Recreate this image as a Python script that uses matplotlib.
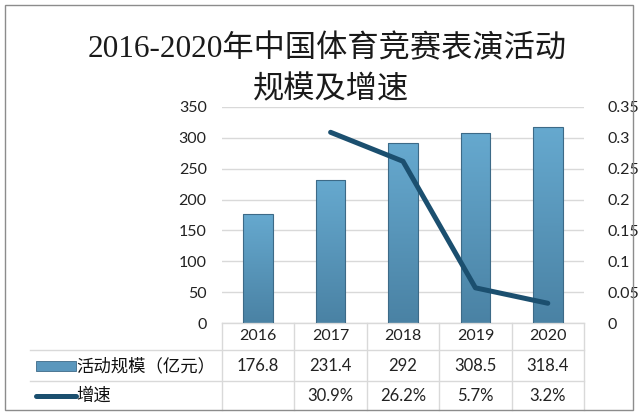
"""2016-2020 sports competition performance scale and growth, bar + line with data table."""
import numpy as np
import matplotlib
matplotlib.use('Agg')
import matplotlib.pyplot as plt
from matplotlib.patches import Rectangle
from matplotlib.lines import Line2D
from matplotlib.colors import LinearSegmentedColormap

years = ['2016', '2017', '2018', '2019', '2020']
scale = [176.8, 231.4, 292, 308.5, 318.4]
growth = [None, 0.309, 0.262, 0.057, 0.032]
growth_labels = ['', '30.9%', '26.2%', '5.7%', '3.2%']
left_ticks = [0, 50, 100, 150, 200, 250, 300, 350]
right_ticks = [0, 0.05, 0.1, 0.15, 0.2, 0.25, 0.3, 0.35]
right_tick_labels = ['0', '0.05', '0.1', '0.15', '0.2', '0.25', '0.3', '0.35']
series_names = ['活动规模（亿元）', '增速']
title_lines = ['2016-2020年中国体育竞赛表演活动', '规模及增速']

CJK = ['Noto Sans CJK SC', 'DejaVu Sans']
NUM = ['Lato', 'Noto Sans CJK SC', 'DejaVu Sans']
TITLE = ['Liberation Serif', 'Noto Sans CJK SC']
BAR_TOP = '#66a9cf'
BAR_BOT = '#4a82a4'
LINE_C = '#1b4f6f'
GRID_C = '#d9d9d9'

W, H = 640, 415
fig = plt.figure(figsize=(W / 100, H / 100), dpi=100)
fig.patch.set_facecolor('white')

# outer chart border
fig.add_artist(Rectangle((5 / W, 1 - 410 / H), 628 / W, 405 / H,
                         transform=fig.transFigure, fill=False,
                         edgecolor='#8c8c8c', linewidth=1.0))

ax_l, ax_r = 222 / W, 584 / W
ax_b, ax_t = 1 - 323 / H, 1 - 107 / H
ax = fig.add_axes([ax_l, ax_b, ax_r - ax_l, ax_t - ax_b])
ax2 = ax.twinx()

x = np.arange(len(years))
ax.set_xlim(-0.5, len(years) - 0.5)
ax.set_ylim(0, 350)
ax2.set_ylim(0, 0.35)

for a in (ax, ax2):
    for s in a.spines.values():
        s.set_visible(False)
ax.set_axisbelow(True)
ax.yaxis.grid(True, color=GRID_C, linewidth=1.0)
ax.set_xticks([])
ax.set_yticks(left_ticks)
ax.tick_params(axis='y', length=0, pad=11, labelsize=11.5)
ax2.set_yticks(right_ticks)
ax2.set_yticklabels(right_tick_labels)
ax2.tick_params(axis='y', length=0, pad=17, labelsize=11.5)
for lab in ax.get_yticklabels() + ax2.get_yticklabels():
    lab.set_family(NUM)
    lab.set_color('#222222')

# bars with a vertical gradient
cmap = LinearSegmentedColormap.from_list('bar', [BAR_BOT, BAR_TOP])
grad = np.linspace(0, 1, 128).reshape(-1, 1)
bars = ax.bar(x, scale, width=0.41, color=BAR_TOP, edgecolor='#3d6a87',
              linewidth=0.8, zorder=2)
for b in bars:
    x0, y0 = b.get_x(), b.get_y()
    im = ax.imshow(grad, cmap=cmap, origin='lower', aspect='auto',
                   extent=[x0, x0 + b.get_width(), y0, y0 + b.get_height()],
                   zorder=2)
    im.set_clip_path(b)
    b.set_facecolor('none')
    b.set_zorder(3)
ax.set_xlim(-0.5, len(years) - 0.5)
ax.set_ylim(0, 350)

gx = [i for i, g in enumerate(growth) if g is not None]
gy = [g for g in growth if g is not None]
ax2.plot(gx, gy, color=LINE_C, linewidth=3.6, solid_capstyle='round',
         solid_joinstyle='round', zorder=4)

# data table under the plot (x in data units, y in axes units)
tr = ax.get_xaxis_transform()
row_y = [-0.06, -0.199, -0.338]
line_y = [0.0, -0.125, -0.2685, -0.403]
label_x0 = -3.15

def hline(y, x0, x1):
    ax.add_line(Line2D([x0, x1], [y, y], transform=tr, color=GRID_C,
                       linewidth=1.0, clip_on=False))

hline(0.0, -0.5, len(years) - 0.5)
hline(line_y[1], label_x0, len(years) - 0.5)
hline(line_y[2], label_x0, len(years) - 0.5)
for xb in np.arange(-0.5, len(years), 1.0):
    ax.add_line(Line2D([xb, xb], [0, line_y[3]], transform=tr, color=GRID_C,
                       linewidth=1.0, clip_on=False))

for i, yr in enumerate(years):
    ax.text(i, row_y[0], yr, transform=tr, ha='center', va='center',
            fontsize=11.5, family=NUM, color='#222222')
    ax.text(i, row_y[1], f'{scale[i]:g}', transform=tr, ha='center',
            va='center', fontsize=12, family=NUM, color='#222222')
    ax.text(i, row_y[2], growth_labels[i], transform=tr, ha='center',
            va='center', fontsize=12, family=NUM, color='#222222')

# legend keys inside the table
key_x0, key_x1 = -3.07, -2.52
ax.add_patch(Rectangle((key_x0, row_y[1] - 0.025), key_x1 - key_x0, 0.05,
                       transform=tr, facecolor='#5a97bd', edgecolor='#3d6a87',
                       linewidth=0.6, clip_on=False))
ax.add_line(Line2D([key_x0, key_x1], [row_y[2], row_y[2]], transform=tr,
                   color=LINE_C, linewidth=3.6, solid_capstyle='round',
                   clip_on=False))
ax.text(key_x1 + 0.01, row_y[1], series_names[0], transform=tr, ha='left',
        va='center', fontsize=12.5, family=CJK, color='#111111')
ax.text(key_x1 + 0.01, row_y[2], series_names[1], transform=tr, ha='left',
        va='center', fontsize=12.5, family=CJK, color='#111111')

# title
fig.text(327 / W, 1 - 50 / H, title_lines[0], ha='center', va='center',
         fontsize=22.5, family=TITLE, color='#1a1a1a')
fig.text(331 / W, 1 - 91 / H, title_lines[1], ha='center', va='center',
         fontsize=22.5, family=TITLE, color='#1a1a1a')

fig.savefig('out.png', dpi=100, facecolor='white')
